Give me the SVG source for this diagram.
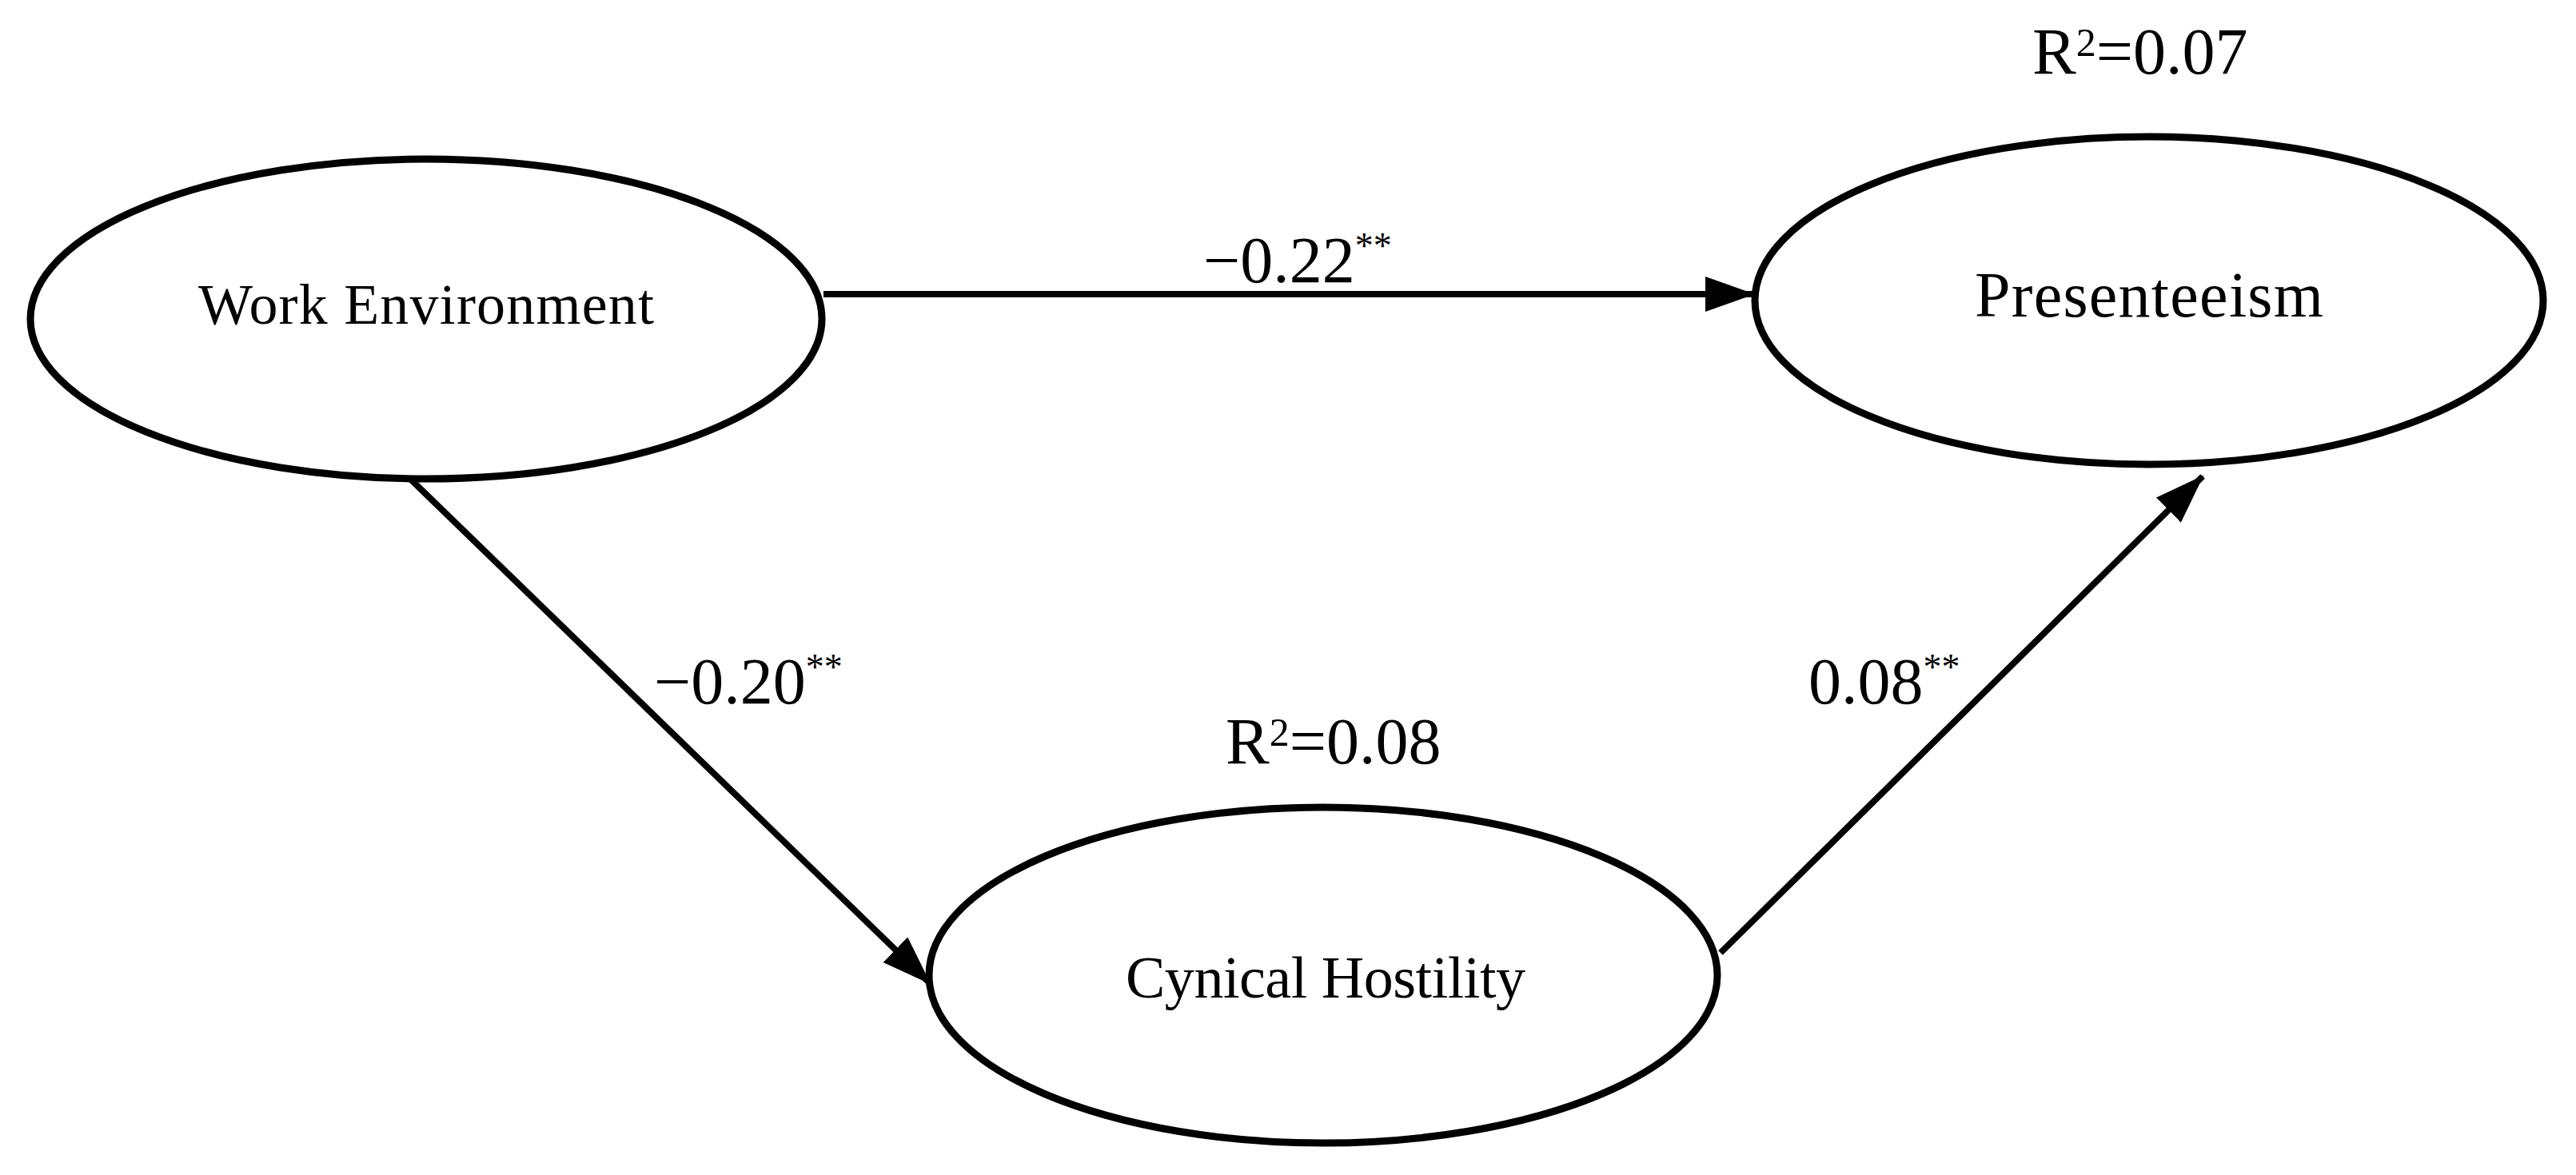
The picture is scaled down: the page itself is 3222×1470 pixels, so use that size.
<svg xmlns="http://www.w3.org/2000/svg" width="3222" height="1470" viewBox="0 0 3222 1470">
<style>
.n{fill:#fff;stroke:#000;stroke-width:9}
.t{font-family:"Liberation Serif",serif;fill:#000;text-anchor:middle}
.l{font-family:"Liberation Serif",serif;fill:#000;font-size:82px}
.c{stroke:#000;stroke-width:8;fill:none;marker-end:url(#a)}
</style>
<defs><marker id="a" markerUnits="userSpaceOnUse" markerWidth="70" markerHeight="50" refX="60" refY="22" orient="auto"><path d="M0,0 L62,22 L0,44 Z" fill="#000"/></marker></defs>
<rect width="3222" height="1470" fill="#fff"/>
<g id="edges">
<line class="c" x1="1030" y1="368" x2="2193" y2="368"/>
<line class="c" x1="510" y1="596" x2="1163" y2="1230"/>
<line class="c" x1="2152" y1="1192" x2="2755" y2="596"/>
</g>
<g id="work"><ellipse class="n" cx="533" cy="399" rx="495" ry="200"/><text class="t" x="533" y="405" font-size="72" textLength="570">Work Environment</text></g>
<g id="pres"><ellipse class="n" cx="2688" cy="376" rx="493" ry="205"/><text class="t" x="2688" y="396" font-size="80" textLength="436">Presenteeism</text></g>
<g id="cyn"><ellipse class="n" cx="1655" cy="1220" rx="493" ry="210"/><text class="t" x="1658" y="1248" font-size="74" textLength="500">Cynical Hostility</text></g>
<g id="labels">
<text class="l" x="1505" y="353">−0.22<tspan font-size="46" dy="-30">**</tspan></text>
<text class="l" x="818" y="880">−0.20<tspan font-size="46" dy="-30">**</tspan></text>
<text class="l" x="2262" y="880">0.08<tspan font-size="46" dy="-30">**</tspan></text>
<text class="l" x="2542" y="92">R<tspan font-size="50" dy="-22">2</tspan><tspan dy="22">=0.07</tspan></text>
<text class="l" x="1533" y="955">R<tspan font-size="50" dy="-22">2</tspan><tspan dy="22">=0.08</tspan></text>
</g>
</svg>
